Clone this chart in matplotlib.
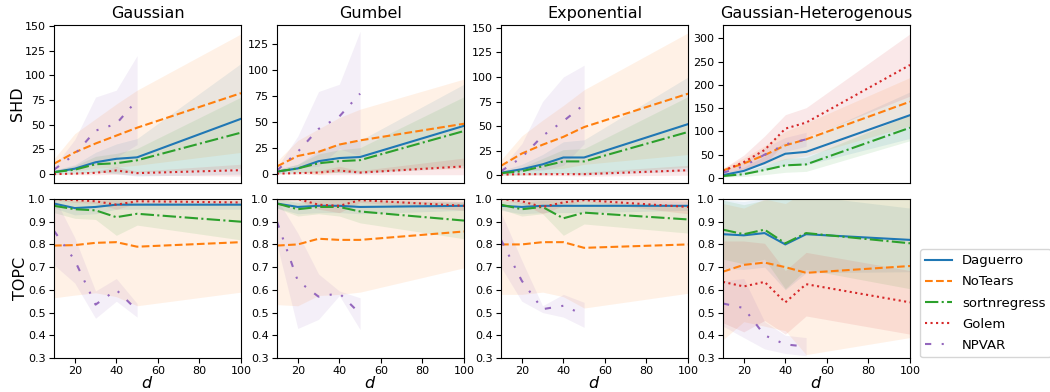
import numpy as np
import matplotlib
matplotlib.use("Agg")
import matplotlib.pyplot as plt

D = [10, 20, 30, 40, 50, 100]
D_NPVAR = [10, 20, 30, 40, 50]
METHODS = ["Daguerro", "NoTears", "sortnregress", "Golem", "NPVAR"]
TITLES = ["Gaussian", "Gumbel", "Exponential", "Gaussian-Heterogenous"]

# ---- SHD (mean, std) ----
SHD_GAUSSIAN_MEAN = {
    "Daguerro": [2, 5.5, 12, 15.5, 17, 56],
    "NoTears": [10.5, 22, 31, 39, 47, 82],
    "sortnregress": [2, 4.5, 10, 11, 14, 42],
    "Golem": [0, 0.5, 1.3, 3.7, 1, 4],
    "NPVAR": [4.5, 20, 44, 51, 75],
}
SHD_GAUSSIAN_STD = {
    "Daguerro": [2, 4, 10, 15, 19, 56],
    "NoTears": [5, 19, 25, 32, 38, 60],
    "sortnregress": [2, 4, 8, 10, 12, 36],
    "Golem": [0.5, 1, 2, 4, 2, 6],
    "NPVAR": [3, 15, 34, 34, 45],
}
SHD_GUMBEL_MEAN = {
    "Daguerro": [2, 5, 12, 15, 16, 46],
    "NoTears": [7, 17, 21, 28, 32, 48],
    "sortnregress": [2, 5, 10, 12, 13, 41],
    "Golem": [0, 0.5, 1, 3, 1, 7],
    "NPVAR": [3, 21, 43, 55, 77],
}
SHD_GUMBEL_STD = {
    "Daguerro": [2, 4, 10, 14, 16, 40],
    "NoTears": [5, 15, 22, 26, 30, 43],
    "sortnregress": [2, 4, 9, 11, 12, 33],
    "Golem": [0.5, 1, 2, 4, 2, 8],
    "NPVAR": [3, 15, 36, 31, 60],
}
SHD_EXPONENTIAL_MEAN = {
    "Daguerro": [2.5, 6, 11, 18, 18, 52],
    "NoTears": [9.5, 22, 31, 39, 49, 83],
    "sortnregress": [2, 4, 9, 14, 14, 44],
    "Golem": [0.5, 1, 1, 1, 1, 5],
    "NPVAR": [4, 18, 40, 55, 72],
}
SHD_EXPONENTIAL_STD = {
    "Daguerro": [2, 5, 10, 16, 18, 48],
    "NoTears": [6, 18, 25, 32, 38, 62],
    "sortnregress": [2, 4, 8, 12, 13, 36],
    "Golem": [0.5, 1, 1.5, 1.5, 2, 5],
    "NPVAR": [3, 14, 35, 45, 40],
}
SHD_HETERO_MEAN = {
    "Daguerro": [6, 15, 32, 52, 56, 135],
    "NoTears": [16, 31, 49, 70, 83, 164],
    "sortnregress": [4, 8, 17, 27, 29, 108],
    "Golem": [15, 34, 60, 106, 119, 243],
    "NPVAR": [11, 25, 50, 72, 83],
}
SHD_HETERO_STD = {
    "Daguerro": [3, 8, 15, 25, 28, 50],
    "NoTears": [5, 12, 20, 30, 35, 52],
    "sortnregress": [2, 5, 10, 15, 15, 28],
    "Golem": [5, 15, 30, 30, 32, 67],
    "NPVAR": [4, 10, 15, 15, 15],
}

# ---- TOPC (mean, std) ----
TOPC_GAUSSIAN_MEAN = {
    "Daguerro": [0.98, 0.96, 0.965, 0.975, 0.975, 0.975],
    "NoTears": [0.795, 0.797, 0.807, 0.81, 0.79, 0.81],
    "sortnregress": [0.97, 0.955, 0.95, 0.92, 0.935, 0.90],
    "Golem": [1.0, 0.995, 0.99, 0.975, 0.99, 0.985],
    "NPVAR": [0.86, 0.73, 0.535, 0.60, 0.51],
}
TOPC_GAUSSIAN_STD = {
    "Daguerro": [0.02, 0.03, 0.03, 0.02, 0.02, 0.02],
    "NoTears": [0.23, 0.22, 0.22, 0.24, 0.26, 0.22],
    "sortnregress": [0.03, 0.04, 0.04, 0.08, 0.05, 0.08],
    "Golem": [0.005, 0.01, 0.01, 0.02, 0.01, 0.01],
    "NPVAR": [0.15, 0.10, 0.06, 0.05, 0.03],
}
TOPC_GUMBEL_MEAN = {
    "Daguerro": [0.98, 0.965, 0.97, 0.97, 0.965, 0.97],
    "NoTears": [0.795, 0.80, 0.825, 0.82, 0.82, 0.857],
    "sortnregress": [0.98, 0.955, 0.965, 0.965, 0.945, 0.905],
    "Golem": [1.0, 1.0, 0.975, 0.97, 0.995, 0.97],
    "NPVAR": [0.90, 0.64, 0.57, 0.585, 0.495],
}
TOPC_GUMBEL_STD = {
    "Daguerro": [0.02, 0.03, 0.03, 0.03, 0.03, 0.02],
    "NoTears": [0.26, 0.27, 0.25, 0.24, 0.23, 0.16],
    "sortnregress": [0.02, 0.03, 0.03, 0.04, 0.05, 0.08],
    "Golem": [0.005, 0.005, 0.02, 0.03, 0.01, 0.02],
    "NPVAR": [0.10, 0.21, 0.10, 0.01, 0.07],
}
TOPC_EXPONENTIAL_MEAN = {
    "Daguerro": [0.97, 0.965, 0.97, 0.97, 0.97, 0.97],
    "NoTears": [0.80, 0.80, 0.81, 0.81, 0.785, 0.80],
    "sortnregress": [0.975, 0.955, 0.965, 0.915, 0.94, 0.91],
    "Golem": [1.0, 0.99, 0.965, 0.985, 0.995, 0.965],
    "NPVAR": [0.82, 0.64, 0.515, 0.53, 0.49],
}
TOPC_EXPONENTIAL_STD = {
    "Daguerro": [0.02, 0.03, 0.03, 0.03, 0.03, 0.02],
    "NoTears": [0.22, 0.22, 0.22, 0.24, 0.265, 0.215],
    "sortnregress": [0.02, 0.03, 0.03, 0.075, 0.05, 0.06],
    "Golem": [0.005, 0.01, 0.03, 0.015, 0.005, 0.03],
    "NPVAR": [0.12, 0.09, 0.015, 0.05, 0.055],
}
TOPC_HETERO_MEAN = {
    "Daguerro": [0.845, 0.84, 0.85, 0.80, 0.845, 0.82],
    "NoTears": [0.68, 0.71, 0.72, 0.70, 0.675, 0.705],
    "sortnregress": [0.865, 0.845, 0.865, 0.805, 0.85, 0.805],
    "Golem": [0.635, 0.615, 0.635, 0.545, 0.625, 0.545],
    "NPVAR": [0.54, 0.52, 0.40, 0.36, 0.35],
}
TOPC_HETERO_STD = {
    "Daguerro": [0.15, 0.15, 0.15, 0.20, 0.17, 0.14],
    "NoTears": [0.30, 0.25, 0.28, 0.28, 0.36, 0.315],
    "sortnregress": [0.13, 0.13, 0.13, 0.20, 0.16, 0.20],
    "Golem": [0.18, 0.20, 0.17, 0.14, 0.14, 0.14],
    "NPVAR": [0.10, 0.13, 0.06, 0.04, 0.04],
}

SHD_DATA = [(SHD_GAUSSIAN_MEAN, SHD_GAUSSIAN_STD), (SHD_GUMBEL_MEAN, SHD_GUMBEL_STD),
            (SHD_EXPONENTIAL_MEAN, SHD_EXPONENTIAL_STD), (SHD_HETERO_MEAN, SHD_HETERO_STD)]
TOPC_DATA = [(TOPC_GAUSSIAN_MEAN, TOPC_GAUSSIAN_STD), (TOPC_GUMBEL_MEAN, TOPC_GUMBEL_STD),
             (TOPC_EXPONENTIAL_MEAN, TOPC_EXPONENTIAL_STD), (TOPC_HETERO_MEAN, TOPC_HETERO_STD)]

COLORS = {"Daguerro": "#1f77b4", "NoTears": "#ff7f0e", "sortnregress": "#2ca02c",
          "Golem": "#d62728", "NPVAR": "#9467bd"}
STYLES = {"Daguerro": "-", "NoTears": (0, (3.7, 1.6)), "sortnregress": (0, (6.4, 1.6, 1, 1.6)),
          "Golem": (0, (1, 1.65)), "NPVAR": (0, (3, 5, 1, 5, 1, 5))}

SHD_YLIM = [(-9, 151), (-9, 143), (-8, 153), (-11, 329)]
SHD_TICKS = [np.arange(0, 151, 25), np.arange(0, 126, 25), np.arange(0, 151, 25), np.arange(0, 301, 50)]

fig = plt.figure(figsize=(10.5, 3.92), dpi=100)
W, H = 1050, 392
lefts = [54, 277, 501, 723]
aw = 187
top_row = (25, 183)
bot_row = (199, 358)

TICK_FS = 8
handles = []
for i in range(4):
    ax_t = fig.add_axes([lefts[i] / W, 1 - top_row[1] / H, aw / W, (top_row[1] - top_row[0]) / H])
    ax_b = fig.add_axes([lefts[i] / W, 1 - bot_row[1] / H, aw / W, (bot_row[1] - bot_row[0]) / H])
    for ax, (mean_d, std_d) in ((ax_t, SHD_DATA[i]), (ax_b, TOPC_DATA[i])):
        for m in METHODS:
            x = np.array(D_NPVAR if m == "NPVAR" else D)
            mu = np.array(mean_d[m])
            sd = np.array(std_d[m])
            ax.fill_between(x, mu - sd, mu + sd, color=COLORS[m], alpha=0.1, linewidth=0)
            ln, = ax.plot(x, mu, color=COLORS[m], linestyle=STYLES[m], linewidth=1.5, label=m)
            if i == 0 and ax is ax_t:
                handles.append(ln)
        ax.set_xlim(10, 100)
        ax.tick_params(labelsize=TICK_FS, pad=2.5)
    ax_t.set_ylim(*SHD_YLIM[i])
    ax_t.set_yticks(SHD_TICKS[i])
    ax_t.set_xticks([20, 40, 60, 80, 100])
    ax_t.tick_params(bottom=False, labelbottom=False)
    ax_t.set_title(TITLES[i], fontsize=11.5, pad=5)
    ax_b.set_ylim(0.3, 1.0)
    ax_b.set_yticks(np.arange(0.3, 1.01, 0.1))
    ax_b.set_yticklabels([f"{v:.1f}" for v in np.arange(0.3, 1.01, 0.1)])
    ax_b.set_xticks([20, 40, 60, 80, 100])
    ax_b.set_xlabel("$d$", fontsize=11.5, labelpad=-1)
    if i == 0:
        ax_t.set_ylabel("SHD", fontsize=11.5, labelpad=0)
        ax_b.set_ylabel("TOPC", fontsize=11.5, labelpad=0)

fig.legend(handles, METHODS, loc="upper left", bbox_to_anchor=(920 / W, 1 - 249 / H),
           fontsize=9.5, frameon=True, borderaxespad=0, labelspacing=0.62)

fig.savefig("out.png", dpi=100)
